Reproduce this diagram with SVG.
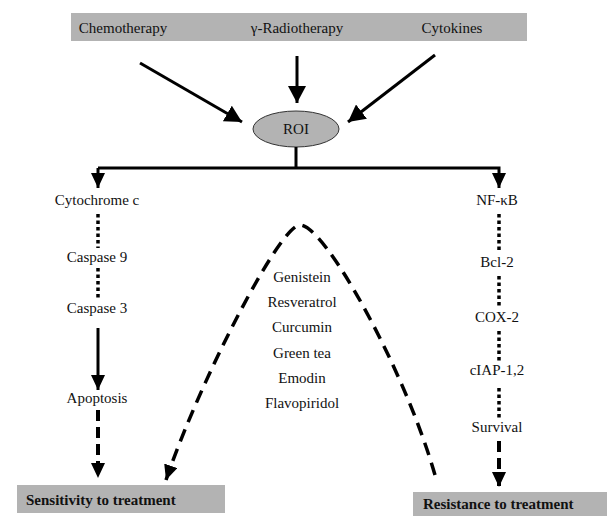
<svg xmlns="http://www.w3.org/2000/svg" width="607" height="516" viewBox="0 0 607 516" font-family="'Liberation Serif', 'Times New Roman', Times, serif">
<style>
text{font-family:"Liberation Serif","Times New Roman",Times,serif;font-size:15px;fill:#111;text-anchor:middle}
.b{font-weight:bold;text-anchor:start}
.bar{fill:#b3b3b3}
.ln{stroke:#000;stroke-width:3;fill:none}
.dot{stroke:#000;stroke-width:3.5;stroke-dasharray:3.5 3;fill:none}
.dash{stroke:#000;stroke-width:4;stroke-dasharray:11 6;fill:none}
.curve{stroke:#000;stroke-width:3.5;stroke-dasharray:13 8;fill:none}
</style>
<defs>
<marker id="ah" markerUnits="userSpaceOnUse" markerWidth="16" markerHeight="14" refX="15" refY="7" orient="auto"><path d="M0,0 L15,7 L0,14 z" fill="#000"/></marker>
<marker id="big" markerUnits="userSpaceOnUse" markerWidth="18" markerHeight="18" refX="17" refY="9" orient="auto"><path d="M0,0 L17,9 L0,18 z" fill="#000"/></marker>
</defs>
<g id="sources">
<rect class="bar" x="71" y="13" width="456" height="28"/>
<text x="123" y="33">Chemotherapy</text>
<text x="297" y="33">γ-Radiotherapy</text>
<text x="452" y="33">Cytokines</text>
</g>
<g id="roi">
<ellipse cx="296" cy="129" rx="43" ry="18" fill="#b3b3b3" stroke="#333" stroke-width="1"/>
<text x="296" y="134">ROI</text>
</g>
<g id="left-col">
<text x="97" y="205">Cytochrome c</text>
<text x="97" y="262">Caspase 9</text>
<text x="97" y="313">Caspase 3</text>
<text x="97" y="403">Apoptosis</text>
</g>
<g id="right-col">
<text x="497" y="205">NF-κB</text>
<text x="497" y="267">Bcl-2</text>
<text x="497" y="322">COX-2</text>
<text x="497" y="375">cIAP-1,2</text>
<text x="497" y="432">Survival</text>
</g>
<g id="drugs">
<text x="302" y="282">Genistein</text>
<text x="302" y="307">Resveratrol</text>
<text x="302" y="332">Curcumin</text>
<text x="302" y="358">Green tea</text>
<text x="302" y="383">Emodin</text>
<text x="302" y="408">Flavopiridol</text>
</g>
<g id="sensitivity">
<rect class="bar" x="17" y="485" width="208" height="28"/>
<text class="b" x="26" y="505">Sensitivity to treatment</text>
</g>
<g id="resistance">
<rect class="bar" x="413" y="492" width="194" height="24"/>
<text class="b" x="423" y="509">Resistance to treatment</text>
</g>
<g id="connectors">
<line class="ln" x1="140" y1="63" x2="242" y2="122" marker-end="url(#big)"/>
<line class="ln" x1="297" y1="56" x2="297" y2="103" marker-end="url(#big)"/>
<line class="ln" x1="435" y1="55" x2="348" y2="122" marker-end="url(#big)"/>
<line class="ln" x1="296" y1="147" x2="296" y2="168"/>
<path class="ln" d="M98,168 H499 V188" marker-end="url(#ah)"/>
<path class="ln" d="M98,168 V188" marker-end="url(#ah)"/>
<line class="dot" x1="98" y1="214" x2="98" y2="248"/>
<line class="dot" x1="98" y1="268" x2="98" y2="300"/>
<line class="ln" x1="98" y1="328" x2="98" y2="390" marker-end="url(#ah)"/>
<line class="dash" x1="98" y1="410" x2="98" y2="478" marker-end="url(#ah)"/>
<line class="dot" x1="499" y1="214" x2="499" y2="250"/>
<line class="dot" x1="499" y1="276" x2="499" y2="307"/>
<line class="dot" x1="499" y1="331" x2="499" y2="362"/>
<line class="dot" x1="499" y1="388" x2="499" y2="420"/>
<line class="dash" x1="499" y1="441" x2="499" y2="487" marker-end="url(#ah)"/>
<path class="curve" d="M435,475 C405,370 325,225 300,225 C280,225 200,380 166,480" marker-end="url(#ah)"/>
</g>
</svg>
